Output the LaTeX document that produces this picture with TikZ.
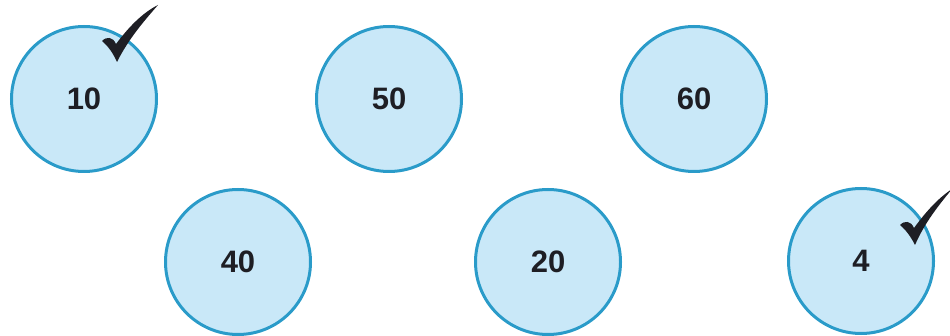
\documentclass[tikz,border=0pt]{standalone}
\usepackage{fontspec}
\setmainfont{Liberation Sans}
\definecolor{ringblue}{HTML}{2A9BC9}
\definecolor{fillblue}{HTML}{C9E8F8}
\definecolor{inkdark}{HTML}{1E1E24}
\tikzset{
  num/.style={circle, draw=ringblue, line width=3pt, fill=fillblue, minimum size=145pt, inner sep=0pt,
    font=\fontsize{31}{33}\selectfont\bfseries, text=inkdark},
  tick/.style={fill=inkdark, draw=none}
}
\begin{document}
\begin{tikzpicture}[x=1pt,y=-1pt]
\useasboundingbox (0,0) rectangle (950,336);
\node[num] (n10) at (84,99) {10};
\node[num] (n50) at (389,99) {50};
\node[num] (n60) at (694,99) {60};
\node[num] (n40) at (238,262) {40};
\node[num] (n20) at (548,262) {20};
\node[num] (n4) at (861,261) {4};
% check marks
\fill[tick] (102,41) .. controls (107,36) and (113,37) .. (116,44)
  .. controls (128,28) and (142,13) .. (158,5)
  .. controls (145,20) and (129,38) .. (117,62)
  .. controls (113,53) and (108,46) .. cycle;
\fill[tick] (900,225) .. controls (905,220) and (911,221) .. (914,228)
  .. controls (925,213) and (937,199) .. (952,189)
  .. controls (939,205) and (925,222) .. (915,245)
  .. controls (911,237) and (906,230) .. cycle;
\end{tikzpicture}
\end{document}
